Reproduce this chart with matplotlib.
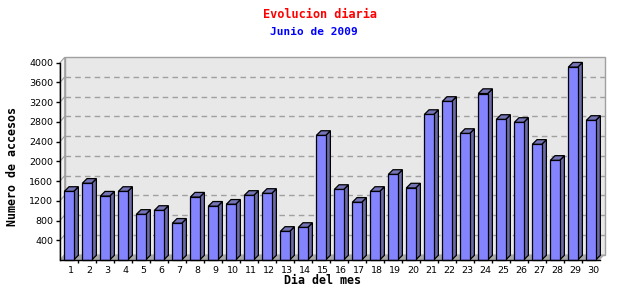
import matplotlib
matplotlib.use('Agg')
import matplotlib.pyplot as plt
from matplotlib.patches import Polygon, Rectangle

# daily visits, June 2009
days = list(range(1, 31))
visits = [1390, 1555, 1295, 1390, 925, 1005, 745, 1275, 1090, 1130,
          1310, 1350, 580, 660, 2525, 1430, 1170, 1390, 1735, 1460,
          2950, 3215, 2565, 3375, 2850, 2790, 2345, 2020, 3910, 2830]
y_ticks = [400, 800, 1200, 1600, 2000, 2400, 2800, 3200, 3600, 4000]

title = 'Evolucion diaria'
subtitle = 'Junio de 2009'
xlabel = 'Dia del mes'
ylabel = 'Numero de accesos'

W, H = 640, 300
fig = plt.figure(figsize=(6.4, 3.0), dpi=100)
fig.patch.set_facecolor('white')

# plot area in pixels (front plane)
left, right, top, bottom = 60, 600, 62.7, 260
ax = fig.add_axes([left / W, (H - bottom) / H, (right - left) / W, (bottom - top) / H])
ymax = 4000
ax.set_xlim(0.5, 30.5)
ax.set_ylim(0, ymax)
ax.set_facecolor('none')

# pixel -> data units
ux = 30 / (right - left)
uy = ymax / (bottom - top)
pdx, pdy = 4.7 * ux, 5.5 * uy     # depth of back panel
bdx, bdy = 4.7 * ux, 4.7 * uy     # depth of bars
x0, x1 = 0.5, 30.5

grey = '#a0a0a0'
# back panel
ax.add_patch(Rectangle((x0 + pdx, pdy), x1 - x0, ymax, facecolor='#e8e8e8',
                       edgecolor=grey, lw=1, clip_on=False, zorder=0))
# left wall
ax.add_patch(Polygon([(x0, 0), (x0 + pdx, pdy), (x0 + pdx, ymax + pdy), (x0, ymax)],
                     closed=True, facecolor='#f2f2f2', edgecolor=grey, lw=0.8,
                     clip_on=False, zorder=0))
# floor
ax.add_patch(Polygon([(x0, 0), (x1, 0), (x1 + pdx, pdy), (x0 + pdx, pdy)],
                     closed=True, facecolor='#a8a8a8', edgecolor='none',
                     clip_on=False, zorder=0.5))

# grid on back panel + connectors
for v in y_ticks[:-1]:
    ax.plot([x0 + pdx, x1 + pdx], [v + pdy, v + pdy], color=grey, lw=1,
            ls=(0, (4, 3)), clip_on=False, zorder=1)
    ax.plot([x0, x0 + pdx], [v, v + pdy], color=grey, lw=0.8, clip_on=False, zorder=1)

# bars
bw = 0.52
front_c, side_c, top_c = '#8484ff', '#6b6ba8', '#7474b6'
for d, v in zip(days, visits):
    xl, xr = d - bw / 2, d + bw / 2
    ax.add_patch(Polygon([(xr, 0), (xr + bdx, bdy), (xr + bdx, v + bdy), (xr, v)],
                         closed=True, facecolor=side_c, edgecolor='black', lw=0.9,
                         clip_on=False, zorder=2))
    ax.add_patch(Polygon([(xl, v), (xr, v), (xr + bdx, v + bdy), (xl + bdx, v + bdy)],
                         closed=True, facecolor=top_c, edgecolor='black', lw=0.9,
                         clip_on=False, zorder=2))
    ax.add_patch(Rectangle((xl, 0), bw, v, facecolor=front_c, edgecolor='black',
                           lw=0.9, clip_on=False, zorder=3))

# axes
for s in ['top', 'right']:
    ax.spines[s].set_visible(False)
for s in ['left', 'bottom']:
    ax.spines[s].set_color('black')
    ax.spines[s].set_linewidth(1)
    ax.spines[s].set_zorder(4)

ax.set_yticks(y_ticks)
ax.set_yticklabels([str(v) for v in y_ticks])
ax.tick_params(axis='y', length=3, width=1, pad=2, labelsize=6.8, color='black')
ax.set_xticks([d + 0.12 for d in days])
ax.set_xticklabels([str(d) for d in days])
ax.set_xticks([d + 0.5 for d in days[:-1]], minor=True)
ax.tick_params(axis='x', which='major', length=0, pad=4.5, labelsize=6.8)
ax.tick_params(axis='x', which='minor', length=2.5, width=1, color='black')
ax.tick_params(axis='y', which='minor', length=0)

mono = 'DejaVu Sans Mono'
fig.text(320 / W, 1 - 14 / H, title, color='#ff0000', family=mono, weight='bold',
         fontsize=8.6, ha='center', va='center')
fig.text(314 / W, 1 - 32 / H, subtitle, color='#0000ff', family=mono, weight='bold',
         fontsize=8.0, ha='center', va='center')
fig.text(323 / W, 1 - 281 / H, xlabel, color='black', family=mono, weight='bold',
         fontsize=8.4, ha='center', va='center')
fig.text(13 / W, 1 - 166 / H, ylabel, color='black', family=mono, weight='bold',
         fontsize=8.4, ha='center', va='center', rotation=90)

fig.savefig('out.png', dpi=100)
